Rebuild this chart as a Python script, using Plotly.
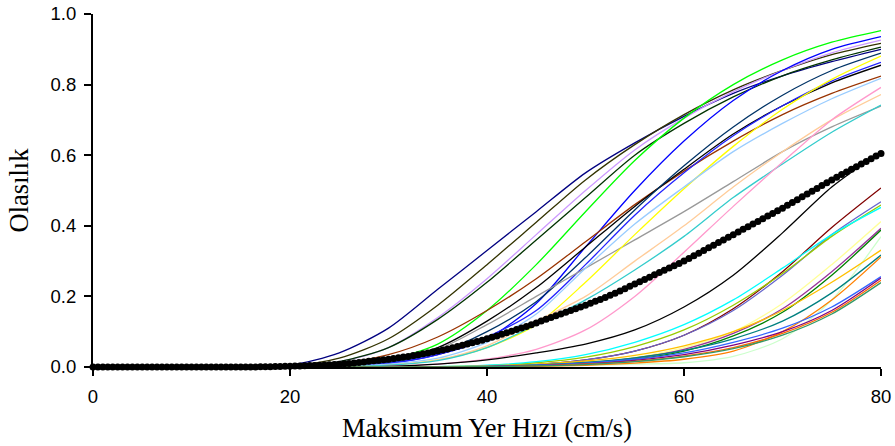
import plotly.graph_objects as go

# Peak ground velocity grid (cm/s) for the individual fragility curves
PGV = [0, 5, 10, 15, 20, 25, 30, 35, 40, 45, 50, 55, 60, 65, 70, 75, 80]

# Individual fragility curves (exceedance probability at each PGV)
navy = [0, 0, 0, 0, 0.005, 0.04, 0.11, 0.22, 0.33, 0.44, 0.55, 0.635, 0.71, 0.775, 0.825, 0.865, 0.90]
olive = [0, 0, 0, 0, 0.003, 0.025, 0.08, 0.175, 0.29, 0.41, 0.53, 0.63, 0.715, 0.785, 0.84, 0.885, 0.917]
lavender = [0, 0, 0, 0, 0.001, 0.015, 0.055, 0.14, 0.25, 0.375, 0.50, 0.615, 0.705, 0.78, 0.84, 0.89, 0.926]
darkgreen = [0, 0, 0, 0, 0.001, 0.015, 0.055, 0.135, 0.24, 0.36, 0.48, 0.60, 0.69, 0.765, 0.825, 0.87, 0.906]
lime = [0, 0, 0, 0, 0, 0.003, 0.02, 0.065, 0.16, 0.29, 0.44, 0.585, 0.705, 0.80, 0.87, 0.92, 0.953]
blue = [0, 0, 0, 0, 0, 0.002, 0.01, 0.035, 0.08, 0.18, 0.34, 0.50, 0.64, 0.755, 0.84, 0.90, 0.936]
brown = [0, 0, 0, 0, 0.001, 0.01, 0.035, 0.085, 0.16, 0.25, 0.355, 0.46, 0.555, 0.64, 0.715, 0.775, 0.824]
black1 = [0, 0, 0, 0, 0, 0.005, 0.02, 0.055, 0.13, 0.225, 0.34, 0.455, 0.56, 0.66, 0.74, 0.805, 0.855]
slate = [0, 0, 0, 0, 0, 0.003, 0.013, 0.04, 0.10, 0.185, 0.31, 0.445, 0.57, 0.68, 0.77, 0.84, 0.889]
blue2 = [0, 0, 0, 0, 0, 0.002, 0.01, 0.035, 0.085, 0.16, 0.29, 0.43, 0.55, 0.655, 0.74, 0.81, 0.863]
gray = [0, 0, 0, 0, 0, 0.005, 0.02, 0.05, 0.12, 0.20, 0.28, 0.36, 0.44, 0.525, 0.61, 0.68, 0.739]
yellow = [0, 0, 0, 0, 0, 0.001, 0.005, 0.02, 0.055, 0.12, 0.24, 0.375, 0.505, 0.625, 0.73, 0.815, 0.881]
skyblue = [0, 0, 0, 0, 0, 0.002, 0.008, 0.025, 0.07, 0.15, 0.28, 0.405, 0.51, 0.61, 0.69, 0.76, 0.818]
peach = [0, 0, 0, 0, 0, 0.001, 0.005, 0.02, 0.06, 0.13, 0.20, 0.30, 0.40, 0.51, 0.61, 0.70, 0.772]
turquoise = [0, 0, 0, 0, 0, 0.001, 0.005, 0.018, 0.055, 0.12, 0.19, 0.275, 0.37, 0.48, 0.575, 0.665, 0.742]
pink = [0, 0, 0, 0, 0, 0, 0.002, 0.008, 0.022, 0.05, 0.105, 0.20, 0.325, 0.455, 0.58, 0.70, 0.792]

black2 = [0, 0, 0, 0, 0, 0, 0.002, 0.008, 0.02, 0.04, 0.065, 0.105, 0.17, 0.26, 0.38, 0.51, 0.61]
maroon = [0, 0, 0, 0, 0, 0, 0, 0.001, 0.002, 0.007, 0.02, 0.045, 0.09, 0.165, 0.27, 0.395, 0.507]
slateblue = [0, 0, 0, 0, 0, 0, 0, 0.001, 0.002, 0.007, 0.02, 0.045, 0.09, 0.16, 0.26, 0.375, 0.468]
yellowgreen = [0, 0, 0, 0, 0, 0, 0, 0.001, 0.004, 0.012, 0.028, 0.058, 0.105, 0.175, 0.265, 0.37, 0.459]
cyan = [0, 0, 0, 0, 0, 0, 0, 0.001, 0.005, 0.015, 0.035, 0.07, 0.12, 0.19, 0.28, 0.375, 0.452]
lightyellow = [0, 0, 0, 0, 0, 0, 0, 0, 0.002, 0.005, 0.012, 0.027, 0.055, 0.10, 0.18, 0.29, 0.412]
plum = [0, 0, 0, 0, 0, 0, 0, 0, 0.002, 0.005, 0.012, 0.025, 0.05, 0.095, 0.165, 0.27, 0.393]
green = [0, 0, 0, 0, 0, 0, 0, 0, 0.001, 0.004, 0.01, 0.022, 0.045, 0.088, 0.155, 0.26, 0.388]
palegreen = [0, 0, 0, 0, 0, 0, 0, 0, 0, 0.002, 0.005, 0.008, 0.012, 0.03, 0.08, 0.19, 0.369]
gold = [0, 0, 0, 0, 0, 0, 0, 0.001, 0.003, 0.008, 0.017, 0.033, 0.06, 0.10, 0.16, 0.24, 0.331]
teal = [0, 0, 0, 0, 0, 0, 0, 0, 0.002, 0.006, 0.013, 0.026, 0.047, 0.08, 0.13, 0.21, 0.317]
orange = [0, 0, 0, 0, 0, 0, 0, 0, 0, 0.002, 0.005, 0.011, 0.022, 0.045, 0.10, 0.19, 0.312]
royalblue = [0, 0, 0, 0, 0, 0, 0, 0, 0.002, 0.005, 0.011, 0.022, 0.04, 0.07, 0.11, 0.17, 0.256]
violet = [0, 0, 0, 0, 0, 0, 0, 0, 0.001, 0.004, 0.009, 0.019, 0.035, 0.062, 0.10, 0.16, 0.252]
orangered = [0, 0, 0, 0, 0, 0, 0, 0, 0.001, 0.003, 0.008, 0.016, 0.031, 0.055, 0.095, 0.155, 0.246]
seagreen = [0, 0, 0, 0, 0, 0, 0, 0, 0.001, 0.003, 0.007, 0.015, 0.029, 0.052, 0.09, 0.15, 0.239]

curves = [
    (navy, "#000080"), (olive, "#333300"), (lavender, "#cc99ff"), (darkgreen, "#003300"),
    (lime, "#00ff00"), (blue, "#0000ff"), (brown, "#993300"), (black1, "#000000"),
    (slate, "#003366"), (blue2, "#2222ff"), (gray, "#999999"), (yellow, "#ffff00"),
    (skyblue, "#99ccff"), (peach, "#ffcc99"), (turquoise, "#33cccc"), (pink, "#ff99cc"),
    (black2, "#000000"), (maroon, "#800000"), (slateblue, "#6666cc"), (yellowgreen, "#99cc00"),
    (cyan, "#00ffff"), (lightyellow, "#ffff99"), (plum, "#993399"), (green, "#008000"),
    (palegreen, "#ccffcc"), (gold, "#ffc000"), (teal, "#008080"), (orange, "#ff8000"),
    (royalblue, "#3366ff"), (violet, "#800080"), (orangered, "#ff6600"), (seagreen, "#339966"),
]

# Mean fragility curve, sampled every 0.5 cm/s from 0 to 80
MEAN_PGV = [i * 0.5 for i in range(161)]
mean_curve = [
    0, 0, 0, 0, 0, 0, 0, 0, 0, 0,                      # 0 - 4.5
    0, 0, 0, 0, 0, 0, 0, 0, 0, 0,                      # 5 - 9.5
    0, 0, 0, 0, 0, 0, 0, 0, 0, 0,                      # 10 - 14.5
    0, 0, 0, 0, 0.0005, 0.0008, 0.001, 0.0013, 0.0015, 0.0018,  # 15 - 19.5
    0.002, 0.0025, 0.003, 0.0035, 0.004, 0.0045, 0.005, 0.0058, 0.0065, 0.0073,  # 20 - 24.5
    0.008, 0.009, 0.010, 0.0115, 0.013, 0.0145, 0.016, 0.0175, 0.019, 0.0205,   # 25 - 29.5
    0.022, 0.024, 0.026, 0.028, 0.030, 0.0325, 0.035, 0.0375, 0.040, 0.0425,    # 30 - 34.5
    0.045, 0.048, 0.051, 0.0545, 0.058, 0.0615, 0.065, 0.0685, 0.072, 0.076,    # 35 - 39.5
    0.080, 0.084, 0.088, 0.0925, 0.097, 0.1015, 0.106, 0.1105, 0.115, 0.120,    # 40 - 44.5
    0.125, 0.130, 0.135, 0.140, 0.145, 0.150, 0.155, 0.160, 0.165, 0.170,       # 45 - 49.5
    0.175, 0.1805, 0.186, 0.1915, 0.197, 0.203, 0.209, 0.2155, 0.222, 0.2285,   # 50 - 54.5
    0.235, 0.2415, 0.248, 0.2545, 0.261, 0.2675, 0.274, 0.2805, 0.287, 0.2935,  # 55 - 59.5
    0.300, 0.3075, 0.315, 0.3225, 0.330, 0.3375, 0.345, 0.3525, 0.360, 0.3675,  # 60 - 64.5
    0.375, 0.3825, 0.390, 0.3975, 0.405, 0.4125, 0.420, 0.4275, 0.435, 0.4425,  # 65 - 69.5
    0.450, 0.458, 0.466, 0.474, 0.482, 0.490, 0.498, 0.506, 0.514, 0.522,       # 70 - 74.5
    0.530, 0.5375, 0.545, 0.5525, 0.560, 0.5675, 0.575, 0.5825, 0.590, 0.5975,  # 75 - 79.5
    0.605,                                                                       # 80
]

X_TICKS = [0, 20, 40, 60, 80]
Y_TICKS = [0.0, 0.2, 0.4, 0.6, 0.8, 1.0]

fig = go.Figure()

for values, color in curves:
    fig.add_trace(go.Scatter(
        x=PGV, y=values, mode="lines",
        line=dict(color=color, width=1.3, shape="spline", smoothing=0.8),
        hoverinfo="skip",
    ))

fig.add_trace(go.Scatter(
    x=MEAN_PGV, y=mean_curve, mode="lines+markers",
    line=dict(color="black", width=2),
    marker=dict(color="black", size=7),
    cliponaxis=False,
))

tick_font = dict(family="Liberation Sans, Arial, sans-serif", size=18.5, color="black")
title_font = dict(family="Liberation Serif, Times New Roman, serif", size=26.5, color="black")

fig.update_layout(
    width=895, height=446,
    margin=dict(l=93, r=14, t=14, b=79),
    plot_bgcolor="white", paper_bgcolor="white",
    showlegend=False,
)
fig.update_xaxes(
    range=[0, 80], tickvals=X_TICKS, automargin=False,
    ticks="outside", ticklen=7, tickwidth=2, tickcolor="black",
    showline=True, linewidth=2, linecolor="black",
    showgrid=False, zeroline=False,
    tickfont=tick_font, ticklabelstandoff=5,
    title=dict(text="Maksimum Yer Hızı (cm/s)", font=title_font, standoff=12),
)
fig.update_yaxes(
    range=[0, 1], tickvals=Y_TICKS, tickformat=".1f", automargin=False,
    ticks="outside", ticklen=7, tickwidth=2, tickcolor="black",
    showline=True, linewidth=2, linecolor="black",
    showgrid=False, zeroline=False,
    tickfont=tick_font, ticklabelstandoff=4,
    title=dict(text="Olasılık", font=title_font, standoff=14),
)

fig.write_html("out.html")
